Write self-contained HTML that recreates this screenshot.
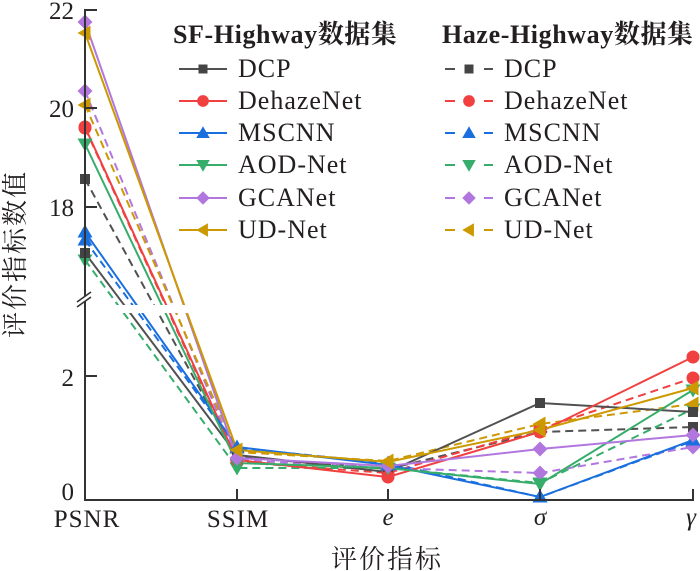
<!DOCTYPE html>
<html><head><meta charset="utf-8"><style>
html,body{margin:0;padding:0;background:#fff;}
svg{display:block;}
text{font-family:"Liberation Serif","Noto Serif CJK SC",serif;fill:#231f20;}
.cjk{font-family:"Noto Serif CJK SC","Noto Sans CJK SC",serif;}
</style></head><body>
<svg width="700" height="571" viewBox="0 0 700 571" xmlns="http://www.w3.org/2000/svg">
<defs>
<rect id="sq" x="-5" y="-5" width="10" height="10"/>
<circle id="ci" r="6.5"/>
<polygon id="tu" points="0,-7.5 7.5,5.5 -7.5,5.5"/>
<polygon id="td" points="-7.5,-5.5 7.5,-5.5 0,7.5"/>
<polygon id="di" points="0,-7.5 7.5,0 0,7.5 -7.5,0"/>
<polygon id="tl" points="-7.5,0 5.5,-7.5 5.5,7.5"/>
</defs>

<!-- data lines: Haze (dashed) -->
<g fill="none" stroke-width="2" stroke-dasharray="8,5">
<polyline stroke="#515151" points="85,179 237,457 388,469 540,432 693,427"/>
<polyline stroke="#F14040" points="85,128 237,462 388,473 540,429 693,378"/>
<polyline stroke="#1A6FDF" points="85,240 237,448 388,463 540,497 693,441"/>
<polyline stroke="#37AD6B" points="85,260 237,468 388,468 540,483 693,409"/>
<polyline stroke="#B177DE" points="85,91 237,460 388,468 540,473 693,447"/>
<polyline stroke="#CC9900" points="85,105 237,452 388,461 540,424 693,404"/>
</g>
<!-- data lines: SF (solid) -->
<g fill="none" stroke-width="2">
<polyline stroke="#515151" points="85,253 237,455 388,472 540,403 693,412"/>
<polyline stroke="#F14040" points="85,127 237,460 388,477 540,432 693,357"/>
<polyline stroke="#1A6FDF" points="85,232 237,447 388,465 540,497 693,440"/>
<polyline stroke="#37AD6B" points="85,144 237,463 388,468 540,484 693,390"/>
<polyline stroke="#B177DE" points="85,22 237,458 388,466 540,449 693,435"/>
<polyline stroke="#CC9900" points="85,33 237,450 388,462 540,430 693,388"/>
</g>

<!-- axis break gap -->
<rect x="86" y="305" width="614" height="8" fill="#fff"/>

<!-- markers Haze -->
<g fill="#444"><use href="#sq" x="85" y="179"/><use href="#sq" x="237" y="457"/><use href="#sq" x="388" y="469"/><use href="#sq" x="540" y="432"/><use href="#sq" x="693" y="427"/></g>
<g fill="#F14040"><use href="#ci" x="85" y="128"/><use href="#ci" x="237" y="462"/><use href="#ci" x="388" y="473"/><use href="#ci" x="540" y="429"/><use href="#ci" x="693" y="378"/></g>
<g fill="#1A6FDF"><use href="#tu" x="85" y="240"/><use href="#tu" x="237" y="448"/><use href="#tu" x="388" y="463"/><use href="#tu" x="540" y="497"/><use href="#tu" x="693" y="441"/></g>
<g fill="#37AD6B"><use href="#td" x="85" y="260"/><use href="#td" x="237" y="468"/><use href="#td" x="388" y="468"/><use href="#td" x="540" y="483"/><use href="#td" x="693" y="409"/></g>
<g fill="#B177DE"><use href="#di" x="85" y="91"/><use href="#di" x="237" y="460"/><use href="#di" x="388" y="468"/><use href="#di" x="540" y="473"/><use href="#di" x="693" y="447"/></g>
<g fill="#CC9900"><use href="#tl" x="85" y="105"/><use href="#tl" x="237" y="452"/><use href="#tl" x="388" y="461"/><use href="#tl" x="540" y="424"/><use href="#tl" x="693" y="404"/></g>
<!-- markers SF -->
<g fill="#444"><use href="#sq" x="85" y="253"/><use href="#sq" x="237" y="455"/><use href="#sq" x="388" y="472"/><use href="#sq" x="540" y="403"/><use href="#sq" x="693" y="412"/></g>
<g fill="#F14040"><use href="#ci" x="85" y="127"/><use href="#ci" x="237" y="460"/><use href="#ci" x="388" y="477"/><use href="#ci" x="540" y="432"/><use href="#ci" x="693" y="357"/></g>
<g fill="#1A6FDF"><use href="#tu" x="85" y="232"/><use href="#tu" x="237" y="447"/><use href="#tu" x="388" y="465"/><use href="#tu" x="540" y="497"/><use href="#tu" x="693" y="440"/></g>
<g fill="#37AD6B"><use href="#td" x="85" y="144"/><use href="#td" x="237" y="463"/><use href="#td" x="388" y="468"/><use href="#td" x="540" y="484"/><use href="#td" x="693" y="390"/></g>
<g fill="#B177DE"><use href="#di" x="85" y="22"/><use href="#di" x="237" y="458"/><use href="#di" x="388" y="466"/><use href="#di" x="540" y="449"/><use href="#di" x="693" y="435"/></g>
<g fill="#CC9900"><use href="#tl" x="85" y="33"/><use href="#tl" x="237" y="450"/><use href="#tl" x="388" y="462"/><use href="#tl" x="540" y="430"/><use href="#tl" x="693" y="388"/></g>

<!-- axes -->
<g stroke="#333" stroke-width="2" fill="none">
<line x1="85" y1="9" x2="85" y2="501"/>
<line x1="84" y1="500" x2="694" y2="500"/>
<line x1="85" y1="10" x2="97" y2="10"/>
<line x1="85" y1="108" x2="97" y2="108"/>
<line x1="85" y1="207" x2="97" y2="207"/>
<line x1="85" y1="376" x2="97" y2="376"/>
<line x1="237" y1="500" x2="237" y2="489"/>
<line x1="388" y1="500" x2="388" y2="489"/>
<line x1="540" y1="500" x2="540" y2="489"/>
<line x1="693" y1="500" x2="693" y2="489"/>
</g>
<!-- break mark -->
<polygon points="77,302 91,292 91,297 77,307" fill="#fff"/>
<g stroke="#333" stroke-width="1.6">
<line x1="77" y1="302" x2="91" y2="292"/>
<line x1="77" y1="307" x2="91" y2="297"/>
</g>

<!-- y tick labels -->
<g font-size="25" text-anchor="end">
<text x="74" y="19">22</text>
<text x="74" y="117">20</text>
<text x="74" y="216">18</text>
<text x="74" y="386">2</text>
<text x="74" y="500">0</text>
</g>
<!-- x tick labels -->
<g font-size="25" text-anchor="middle">
<text x="87" y="527" letter-spacing="1">PSNR</text>
<text x="238" y="527" letter-spacing="1">SSIM</text>
<text x="388" y="525" font-style="italic">e</text>
<text x="540" y="525" font-style="italic">σ</text>
<text x="691" y="525" font-style="italic">γ</text>
</g>
<!-- axis titles -->
<text class="cjk" x="387" y="568" font-size="26" text-anchor="middle" letter-spacing="2">评价指标</text>
<text class="cjk" transform="translate(24,254) rotate(-90)" font-size="26" text-anchor="middle" letter-spacing="2">评价指标数值</text>

<!-- legend left -->
<text x="173" y="43" font-size="26" font-weight="bold" letter-spacing="0.6">SF-Highway<tspan class="cjk" font-weight="bold">数据集</tspan></text>
<g stroke-width="2">
<line x1="179" y1="69" x2="227" y2="69" stroke="#515151"/>
<line x1="179" y1="101" x2="227" y2="101" stroke="#F14040"/>
<line x1="179" y1="133" x2="227" y2="133" stroke="#1A6FDF"/>
<line x1="179" y1="165" x2="227" y2="165" stroke="#37AD6B"/>
<line x1="179" y1="198" x2="227" y2="198" stroke="#B177DE"/>
<line x1="179" y1="230" x2="227" y2="230" stroke="#CC9900"/>
</g>
<use href="#sq" transform="translate(203,69) scale(0.9)" fill="#444"/>
<use href="#ci" transform="translate(203,101) scale(0.9)" fill="#F14040"/>
<use href="#tu" transform="translate(203,133) scale(0.9)" fill="#1A6FDF"/>
<use href="#td" transform="translate(203,165) scale(0.9)" fill="#37AD6B"/>
<use href="#di" transform="translate(203,198) scale(0.9)" fill="#B177DE"/>
<use href="#tl" transform="translate(203,230) scale(0.9)" fill="#CC9900"/>
<g font-size="26" letter-spacing="1">
<text x="238" y="77">DCP</text>
<text x="238" y="109">DehazeNet</text>
<text x="238" y="141">MSCNN</text>
<text x="238" y="173">AOD-Net</text>
<text x="238" y="206">GCANet</text>
<text x="238" y="238">UD-Net</text>
</g>

<!-- legend right -->
<text x="442" y="43" font-size="26" font-weight="bold" letter-spacing="0.6">Haze-Highway<tspan class="cjk" font-weight="bold">数据集</tspan></text>
<g stroke-width="2">
<path d="M445 69h10M484 69h9" stroke="#515151"/>
<path d="M445 101h10M484 101h9" stroke="#F14040"/>
<path d="M445 133h10M484 133h9" stroke="#1A6FDF"/>
<path d="M445 165h10M484 165h9" stroke="#37AD6B"/>
<path d="M445 198h10M484 198h9" stroke="#B177DE"/>
<path d="M445 230h10M484 230h9" stroke="#CC9900"/>
</g>
<use href="#sq" transform="translate(469,69) scale(0.9)" fill="#444"/>
<use href="#ci" transform="translate(469,101) scale(0.9)" fill="#F14040"/>
<use href="#tu" transform="translate(469,133) scale(0.9)" fill="#1A6FDF"/>
<use href="#td" transform="translate(469,165) scale(0.9)" fill="#37AD6B"/>
<use href="#di" transform="translate(469,198) scale(0.9)" fill="#B177DE"/>
<use href="#tl" transform="translate(469,230) scale(0.9)" fill="#CC9900"/>
<g font-size="26" letter-spacing="1">
<text x="504" y="77">DCP</text>
<text x="504" y="109">DehazeNet</text>
<text x="504" y="141">MSCNN</text>
<text x="504" y="173">AOD-Net</text>
<text x="504" y="206">GCANet</text>
<text x="504" y="238">UD-Net</text>
</g>
</svg>
</body></html>
